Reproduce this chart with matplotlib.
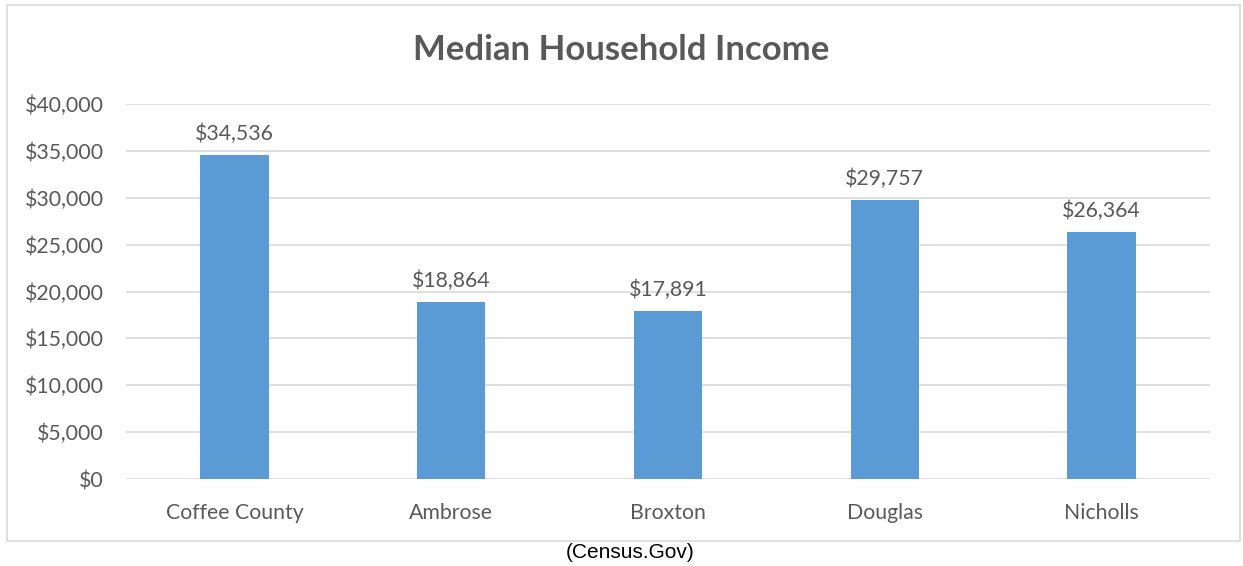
import matplotlib.pyplot as plt
from matplotlib.patches import Rectangle

# data
places = ['Coffee County', 'Ambrose', 'Broxton', 'Douglas', 'Nicholls']
income = [34536, 18864, 17891, 29757, 26364]
yticks = [0, 5000, 10000, 15000, 20000, 25000, 30000, 35000, 40000]

txt = '#595959'
plt.rcParams['font.family'] = ['Lato', 'DejaVu Sans']

fig = plt.figure(figsize=(12.43, 5.66), dpi=100)
W, H = 1243, 566
ax = fig.add_axes([126 / W, 1 - 479 / H, (1210 - 126) / W, (479 - 104) / H])

# chart border
fig.patches.append(Rectangle((7 / W, 1 - 541 / H), (1240 - 7) / W, (541 - 5) / H,
                             transform=fig.transFigure, fill=False,
                             edgecolor='#D9D9D9', linewidth=1.2))

x = range(len(places))
bars = ax.bar(x, income, width=0.315, color='#5B9BD5', zorder=3)
for b, v in zip(bars, income):
    ax.annotate(f'${v:,}', (b.get_x() + b.get_width() / 2, v),
                xytext=(0, 8), textcoords='offset points',
                ha='center', va='bottom', fontsize=15.3, color=txt)

ax.set_xlim(-0.5, len(places) - 0.5)
ax.set_ylim(0, 40000)
ax.set_yticks(yticks)
ax.set_yticklabels([f'${t:,}' for t in yticks])
ax.set_xticks(list(x))
ax.set_xticklabels(places)
ax.tick_params(axis='both', length=0, labelsize=15.3, labelcolor=txt)
ax.tick_params(axis='y', pad=16)
ax.tick_params(axis='x', pad=17)
ax.grid(axis='y', color='#D9D9D9', linewidth=1.2, zorder=0)
for s in ax.spines.values():
    s.set_visible(False)

fig.text(0.5, 1 - 50 / H, 'Median Household Income', ha='center', va='center',
         fontsize=25, fontweight='bold', color=txt)
fig.text(630 / W, 1 - 552 / H, '(Census.Gov)', ha='center', va='center',
         fontsize=15, color='black', family='Liberation Sans')

fig.savefig('out.png', dpi=100)
